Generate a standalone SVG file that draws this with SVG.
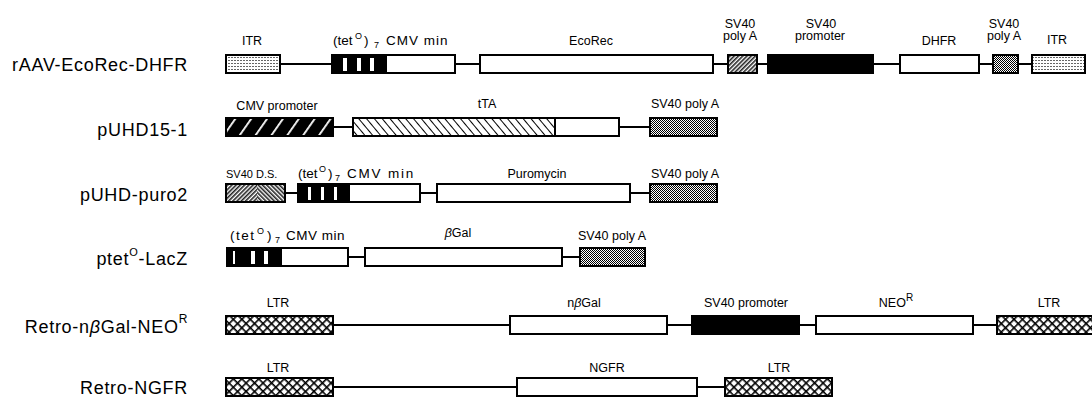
<svg xmlns="http://www.w3.org/2000/svg" width="1092" height="398" viewBox="0 0 1092 398">
<style>
text{font-family:"Liberation Sans",Arial,sans-serif;fill:#000}
.rl{font-size:18px;letter-spacing:0.7px;text-anchor:end}
.lb{font-size:12.5px;text-anchor:middle}
.tl{font-size:13.5px}
.sm{font-size:9px}
.bx{stroke:#000;stroke-width:2}
.w{fill:#fff}
.k{fill:#000}
.ln{stroke:#000;stroke-width:2;fill:none}
</style>
<defs>
<pattern id="dots" width="3" height="3" patternUnits="userSpaceOnUse">
<rect width="3" height="3" fill="#fff"/><rect width="2" height="1" fill="#666"/>
</pattern>
<pattern id="hf" width="3" height="3" patternUnits="userSpaceOnUse" patternTransform="rotate(45)">
<rect width="3" height="3" fill="#fff"/><rect width="1.6" height="3" fill="#222"/>
</pattern>
<pattern id="hb" width="3" height="3" patternUnits="userSpaceOnUse" patternTransform="rotate(-45)">
<rect width="3" height="3" fill="#fff"/><rect width="1.6" height="3" fill="#222"/>
</pattern>
<pattern id="chk" width="2" height="2" patternUnits="userSpaceOnUse">
<rect width="2" height="2" fill="#fff"/><rect width="1" height="1" fill="#000"/><rect x="1" y="1" width="1" height="1" fill="#000"/>
</pattern>
<pattern id="xh" width="6" height="6" patternUnits="userSpaceOnUse" patternTransform="rotate(45)">
<rect width="6" height="6" fill="#fff"/><rect width="1.6" height="6" fill="#000"/><rect width="6" height="1.6" fill="#000"/>
</pattern>
<pattern id="cmv" width="13" height="13" patternUnits="userSpaceOnUse" patternTransform="rotate(35)">
<rect width="13" height="13" fill="#000"/><rect width="1.8" height="13" fill="#fff"/>
</pattern>
<pattern id="tta" width="6" height="6" patternUnits="userSpaceOnUse" patternTransform="rotate(-40)">
<rect width="6" height="6" fill="#fff"/><rect width="1" height="6" fill="#000"/>
</pattern>
</defs>

<g id="connectors">
<line class="ln" x1="280" y1="64" x2="332" y2="64"/>
<line class="ln" x1="455" y1="64" x2="480" y2="64"/>
<line class="ln" x1="713" y1="64" x2="728" y2="64"/>
<line class="ln" x1="757" y1="64" x2="768" y2="64"/>
<line class="ln" x1="873" y1="64" x2="900" y2="64"/>
<line class="ln" x1="979" y1="64" x2="993" y2="64"/>
<line class="ln" x1="1018" y1="64" x2="1032" y2="64"/>
<line class="ln" x1="333" y1="127" x2="353" y2="127"/>
<line class="ln" x1="619" y1="127" x2="650" y2="127"/>
<line class="ln" x1="285" y1="193" x2="298" y2="193"/>
<line class="ln" x1="420" y1="193" x2="437" y2="193"/>
<line class="ln" x1="630" y1="193" x2="650" y2="193"/>
<line class="ln" x1="348" y1="257" x2="365" y2="257"/>
<line class="ln" x1="562" y1="257" x2="580" y2="257"/>
<line class="ln" x1="333" y1="325" x2="510" y2="325"/>
<line class="ln" x1="667" y1="325" x2="692" y2="325"/>
<line class="ln" x1="799" y1="325" x2="816" y2="325"/>
<line class="ln" x1="973" y1="325" x2="997" y2="325"/>
<line class="ln" x1="333" y1="387" x2="517" y2="387"/>
<line class="ln" x1="697" y1="387" x2="725" y2="387"/>
</g>

<g id="rAAV-EcoRec-DHFR">
<text class="rl" x="188" y="71">rAAV-EcoRec-DHFR</text>
<rect class="bx" x="226" y="55" width="54" height="18" fill="url(#dots)"/>
<text class="lb" x="252" y="45">ITR</text>
<rect class="bx w" x="332" y="55" width="123" height="18"/>
<rect class="k" x="332" y="55" width="55" height="18"/>
<rect class="w" x="343" y="58" width="4" height="13"/>
<rect class="w" x="357" y="58" width="4" height="13"/>
<rect class="w" x="370" y="58" width="4" height="13"/>
<text class="tl" y="45"><tspan x="333">(tet</tspan><tspan class="sm" x="355" y="39">O</tspan><tspan x="364" y="45">)</tspan><tspan class="sm" x="374" y="48">7</tspan><tspan x="386" y="45" letter-spacing="1">CMV min</tspan></text>
<rect class="bx w" x="480" y="55" width="233" height="18"/>
<text class="lb" x="591" y="45">EcoRec</text>
<rect class="bx" x="728" y="55" width="29" height="18" fill="url(#hf)"/>
<text class="lb" x="740" y="28">SV40</text>
<text class="lb" x="740" y="40">poly A</text>
<rect class="bx k" x="768" y="55" width="105" height="18"/>
<text class="lb" x="821" y="28">SV40</text>
<text class="lb" x="820" y="40">promoter</text>
<rect class="bx w" x="900" y="55" width="79" height="18"/>
<text class="lb" x="939" y="45">DHFR</text>
<rect class="bx" x="993" y="55" width="25" height="18" fill="url(#chk)"/>
<text class="lb" x="1004" y="28">SV40</text>
<text class="lb" x="1004" y="40">poly A</text>
<rect class="bx" x="1032" y="55" width="53" height="18" fill="url(#dots)"/>
<text class="lb" x="1057" y="44">ITR</text>
</g>

<g id="pUHD15-1">
<text class="rl" x="188" y="136">pUHD15-1</text>
<rect class="bx" x="226" y="118" width="107" height="18" fill="url(#cmv)"/>
<text class="lb" x="277" y="110">CMV promoter</text>
<rect class="bx w" x="353" y="118" width="266" height="18"/>
<rect x="354" y="119" width="201" height="16" fill="url(#tta)"/>
<line class="ln" x1="555" y1="118" x2="555" y2="136"/>
<text class="lb" x="487" y="108">tTA</text>
<rect class="bx" x="650" y="118" width="67" height="18" fill="url(#chk)"/>
<text class="lb" x="685" y="108">SV40 poly A</text>
</g>

<g id="pUHD-puro2">
<text class="rl" x="188" y="201">pUHD-puro2</text>
<rect class="bx" x="226" y="184" width="59" height="18" fill="url(#hf)"/>
<rect x="257" y="185" width="27" height="16" fill="url(#hb)"/>
<text x="226" y="178" style="font-size:11px">SV40 D.S.</text>
<rect class="bx w" x="298" y="184" width="122" height="18"/>
<rect class="k" x="298" y="184" width="52" height="18"/>
<rect class="w" x="308" y="187" width="3" height="13"/>
<rect class="w" x="321" y="187" width="3" height="13"/>
<rect class="w" x="334" y="187" width="3" height="13"/>
<text class="tl" y="178"><tspan x="298">(tet</tspan><tspan class="sm" x="319" y="172">O</tspan><tspan x="328" y="178">)</tspan><tspan class="sm" x="335" y="181">7</tspan><tspan x="347" y="178" letter-spacing="1.8">CMV min</tspan></text>
<rect class="bx w" x="437" y="184" width="193" height="18"/>
<text class="lb" x="537" y="178">Puromycin</text>
<rect class="bx" x="650" y="184" width="67" height="18" fill="url(#chk)"/>
<text class="lb" x="685" y="178">SV40 poly A</text>
</g>

<g id="ptetO-LacZ">
<text class="rl" x="188" y="265">ptet<tspan dy="-9" style="font-size:11px">O</tspan><tspan dy="9">-LacZ</tspan></text>
<rect class="bx w" x="227" y="248" width="121" height="18"/>
<rect class="k" x="227" y="248" width="55" height="18"/>
<rect class="w" x="233" y="251" width="2" height="13"/>
<rect class="w" x="251" y="251" width="4" height="13"/>
<rect class="w" x="264" y="251" width="4" height="13"/>
<text class="tl" y="240"><tspan x="230" letter-spacing="1.5">(tet</tspan><tspan class="sm" x="257" y="234">O</tspan><tspan x="267" y="240">)</tspan><tspan class="sm" x="275" y="243">7</tspan><tspan x="286" y="240" letter-spacing="0.5">CMV min</tspan></text>
<rect class="bx w" x="365" y="248" width="197" height="18"/>
<text class="lb" x="458" y="237"><tspan font-style="italic">β</tspan>Gal</text>
<rect class="bx" x="580" y="248" width="65" height="18" fill="url(#chk)"/>
<text class="lb" x="612" y="240">SV40 poly A</text>
</g>

<g id="Retro-nbGal-NEOR">
<text class="rl" x="188" y="333">Retro-n<tspan font-style="italic">β</tspan>Gal-NEO<tspan dy="-10" style="font-size:12px">R</tspan></text>
<rect class="bx" x="226" y="316" width="107" height="18" fill="url(#xh)"/>
<text class="lb" x="278" y="307">LTR</text>
<rect class="bx w" x="510" y="316" width="157" height="18"/>
<text class="lb" x="584" y="307">n<tspan font-style="italic">β</tspan>Gal</text>
<rect class="bx k" x="692" y="316" width="107" height="18"/>
<text class="lb" x="746" y="307">SV40 promoter</text>
<rect class="bx w" x="816" y="316" width="157" height="18"/>
<text class="lb" x="896" y="307">NEO<tspan dy="-6" style="font-size:10px">R</tspan></text>
<rect class="bx" x="997" y="316" width="100" height="18" fill="url(#xh)"/>
<text class="lb" x="1049" y="307">LTR</text>
</g>

<g id="Retro-NGFR">
<text class="rl" x="188" y="394">Retro-NGFR</text>
<rect class="bx" x="226" y="378" width="107" height="18" fill="url(#xh)"/>
<text class="lb" x="278" y="372">LTR</text>
<rect class="bx w" x="517" y="378" width="180" height="18"/>
<text class="lb" x="607" y="372">NGFR</text>
<rect class="bx" x="725" y="378" width="107" height="18" fill="url(#xh)"/>
<text class="lb" x="779" y="372">LTR</text>
</g>
</svg>
